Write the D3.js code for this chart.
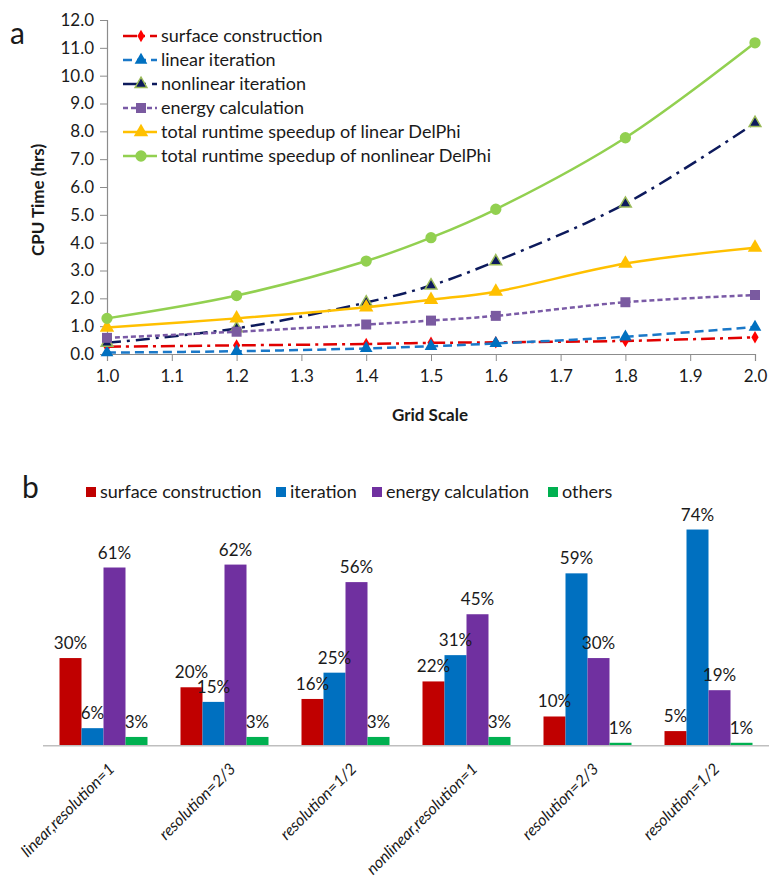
<!DOCTYPE html>
<html lang="en">
<head>
  <meta charset="UTF-8">
  <title>CPU Time</title>
  <script src="https://d3js.org/d3.v7.min.js"></script>
  <style>
    body { margin: 0; background: #fff; }
    text { font-family: Lato, "Open Sans", sans-serif; fill: #1a1a1a; }
  </style>
</head>
<body>
  <script>
    // ---- data: panel a ----
    const gridScale = [1.0, 1.2, 1.4, 1.5, 1.6, 1.8, 2.0];
    const seriesNames = [
      "surface construction",
      "linear iteration",
      "nonlinear iteration",
      "energy calculation",
      "total runtime speedup of linear DelPhi",
      "total runtime speedup of nonlinear DelPhi"
    ];
    const surfaceConstruction = [0.26, 0.31, 0.36, 0.40, 0.42, 0.47, 0.60];
    const linearIteration = [0.05, 0.10, 0.20, 0.28, 0.38, 0.62, 0.97];
    const nonlinearIteration = [0.40, 0.92, 1.85, 2.46, 3.33, 5.40, 8.30];
    const energyCalculation = [0.58, 0.80, 1.06, 1.20, 1.37, 1.86, 2.12];
    const totalLinear = [0.95, 1.28, 1.68, 1.95, 2.24, 3.25, 3.82];
    const totalNonlinear = [1.28, 2.10, 3.34, 4.18, 5.20, 7.77, 11.18];
    const yTicksA = d3.range(0, 12.01, 1);
    const xTicksA = d3.range(1.0, 2.001, 0.1);

    // ---- data: panel b ----
    const caseLabels = [
      "linear,resolution=1", "resolution=2/3", "resolution=1/2",
      "nonlinear,resolution=1", "resolution=2/3", "resolution=1/2"
    ];
    const partNames = ["surface construction", "iteration", "energy calculation", "others"];
    const surfacePct = [30, 20, 16, 22, 10, 5];
    const iterationPct = [6, 15, 25, 31, 59, 74];
    const energyPct = [61, 62, 56, 45, 30, 19];
    const othersPct = [3, 3, 3, 3, 1, 1];

    const svg = d3.select("body").append("svg")
      .attr("width", 769)
      .attr("height", 879);

    // ================= panel a =================
    const x = d3.scaleLinear().domain([1.0, 2.0]).range([107, 755]);
    const y = d3.scaleLinear().domain([0, 12]).range([354, 20]);

    const lineStyles = [
      { color: "#e00000", dash: "14,5,3,5", marker: d3.symbolDiamond, size: 45, fill: "#ff0000", stroke: "none" },
      { color: "#1a78c8", dash: "9,5", marker: d3.symbolTriangle, size: 70, fill: "#0070c0", stroke: "none" },
      { color: "#0d1a5c", dash: "14,6,3,6", marker: d3.symbolTriangle, size: 60, fill: "#0d1a5c", stroke: "#9bbb59" },
      { color: "#7a5aa6", dash: "5,3", marker: d3.symbolSquare, size: 100, fill: "#7a5aa0", stroke: "none" },
      { color: "#ffc000", dash: null, marker: d3.symbolTriangle, size: 90, fill: "#ffc000", stroke: "none" },
      { color: "#92d050", dash: null, marker: d3.symbolCircle, size: 100, fill: "#92d050", stroke: "none" }
    ];
    const seriesA = [surfaceConstruction, linearIteration, nonlinearIteration,
      energyCalculation, totalLinear, totalNonlinear];

    // axes
    const yAxis = svg.append("g")
      .attr("transform", "translate(107,0)")
      .call(d3.axisLeft(y).tickValues(yTicksA).tickFormat(d3.format(".1f")).tickSize(7).tickPadding(6));
    const xAxis = svg.append("g")
      .attr("transform", "translate(0,354)")
      .call(d3.axisBottom(x).tickValues(xTicksA).tickFormat(d3.format(".1f")).tickSize(7).tickPadding(9));
    [yAxis, xAxis].forEach(g => {
      g.select(".domain").attr("stroke", "#8c8c8c").attr("stroke-width", 1.2);
      g.selectAll(".tick line").attr("stroke", "#8c8c8c");
      g.selectAll(".tick text").style("font-size", "17px").attr("fill", "#1a1a1a");
    });

    const line = d3.line()
      .x((d, i) => x(gridScale[i]))
      .y(d => y(d))
      .curve(d3.curveCatmullRom.alpha(0.5));

    seriesA.forEach((vals, s) => {
      const st = lineStyles[s];
      svg.append("path")
        .datum(vals)
        .attr("d", line)
        .attr("fill", "none")
        .attr("stroke", st.color)
        .attr("stroke-width", 2.5)
        .attr("stroke-dasharray", st.dash);
      svg.selectAll(".m" + s)
        .data(vals)
        .enter().append("path")
        .attr("class", "m" + s)
        .attr("d", d3.symbol().type(st.marker).size(st.size))
        .attr("transform", (d, i) => `translate(${x(gridScale[i])},${y(d)})`)
        .attr("fill", st.fill)
        .attr("stroke", st.stroke)
        .attr("stroke-width", 1.5);
    });

    // legend a
    const legA = svg.append("g");
    seriesNames.forEach((name, s) => {
      const st = lineStyles[s];
      const ly = 36 + s * 24;
      legA.append("line")
        .attr("x1", 123).attr("x2", 157)
        .attr("y1", ly).attr("y2", ly)
        .attr("stroke", st.color)
        .attr("stroke-width", 2.5)
        .attr("stroke-dasharray", st.dash);
      legA.append("path")
        .attr("d", d3.symbol().type(st.marker).size(st.size))
        .attr("transform", `translate(141,${ly})`)
        .attr("fill", st.fill)
        .attr("stroke", st.stroke)
        .attr("stroke-width", 1.5);
      legA.append("text")
        .attr("x", 161).attr("y", ly)
        .attr("dy", "0.35em")
        .style("font-size", "18px")
        .text(name);
    });

    svg.append("text")
      .attr("x", 430).attr("y", 421)
      .attr("text-anchor", "middle")
      .style("font-size", "17px")
      .style("font-weight", "bold")
      .text("Grid Scale");
    svg.append("text")
      .attr("transform", "translate(44,200) rotate(-90)")
      .attr("text-anchor", "middle")
      .style("font-size", "17px")
      .style("font-weight", "bold")
      .text("CPU Time (hrs)");
    svg.append("text")
      .attr("x", 10).attr("y", 44)
      .style("font-size", "30px")
      .text("a");

    // ================= panel b =================
    const barColors = ["#c00000", "#0070c0", "#7030a0", "#00b050"];
    const seriesB = [surfacePct, iterationPct, energyPct, othersPct];

    const x0 = d3.scaleBand().domain(d3.range(caseLabels.length)).range([43, 769]);
    const x1 = d3.scaleBand().domain(d3.range(partNames.length))
      .range([16.5, x0.bandwidth() - 16.5]);
    const yb = d3.scaleLinear().domain([0, 80]).range([745.7, 512]);

    const groups = svg.selectAll(".grp")
      .data(caseLabels.map((c, i) => i))
      .enter().append("g")
      .attr("class", "grp")
      .attr("transform", i => `translate(${x0(i)},0)`);

    groups.selectAll("rect")
      .data(i => seriesB.map((vals, s) => ({ s, v: vals[i] })))
      .enter().append("rect")
      .attr("x", d => x1(d.s))
      .attr("width", x1.bandwidth())
      .attr("y", d => yb(d.v))
      .attr("height", d => yb(0) - yb(d.v))
      .attr("fill", d => barColors[d.s]);

    groups.selectAll(".lbl")
      .data(i => seriesB.map((vals, s) => ({ s, v: vals[i] })))
      .enter().append("text")
      .attr("class", "lbl")
      .attr("x", d => x1(d.s) + x1.bandwidth() / 2)
      .attr("y", d => yb(d.v) - 9)
      .attr("text-anchor", "middle")
      .style("font-size", "17px")
      .text(d => d.v + "%");

    svg.append("line")
      .attr("x1", 43).attr("x2", 769)
      .attr("y1", yb(0)).attr("y2", yb(0))
      .attr("stroke", "#bfbfbf")
      .attr("stroke-width", 1.5);

    groups.append("text")
      .attr("transform", i => `translate(${x0.bandwidth() / 2 + 12},770) rotate(-45)`)
      .attr("text-anchor", "end")
      .style("font-size", "16px")
      .style("font-style", "italic")
      .text(i => caseLabels[i]);

    // legend b
    const legBx = [86, 276, 372, 548];
    partNames.forEach((name, s) => {
      svg.append("rect")
        .attr("x", legBx[s]).attr("y", 487)
        .attr("width", 10).attr("height", 10)
        .attr("fill", barColors[s]);
      svg.append("text")
        .attr("x", legBx[s] + 14).attr("y", 492)
        .attr("dy", "0.35em")
        .style("font-size", "18px")
        .text(name);
    });

    svg.append("text")
      .attr("x", 22).attr("y", 498)
      .style("font-size", "30px")
      .text("b");
  </script>
</body>
</html>
